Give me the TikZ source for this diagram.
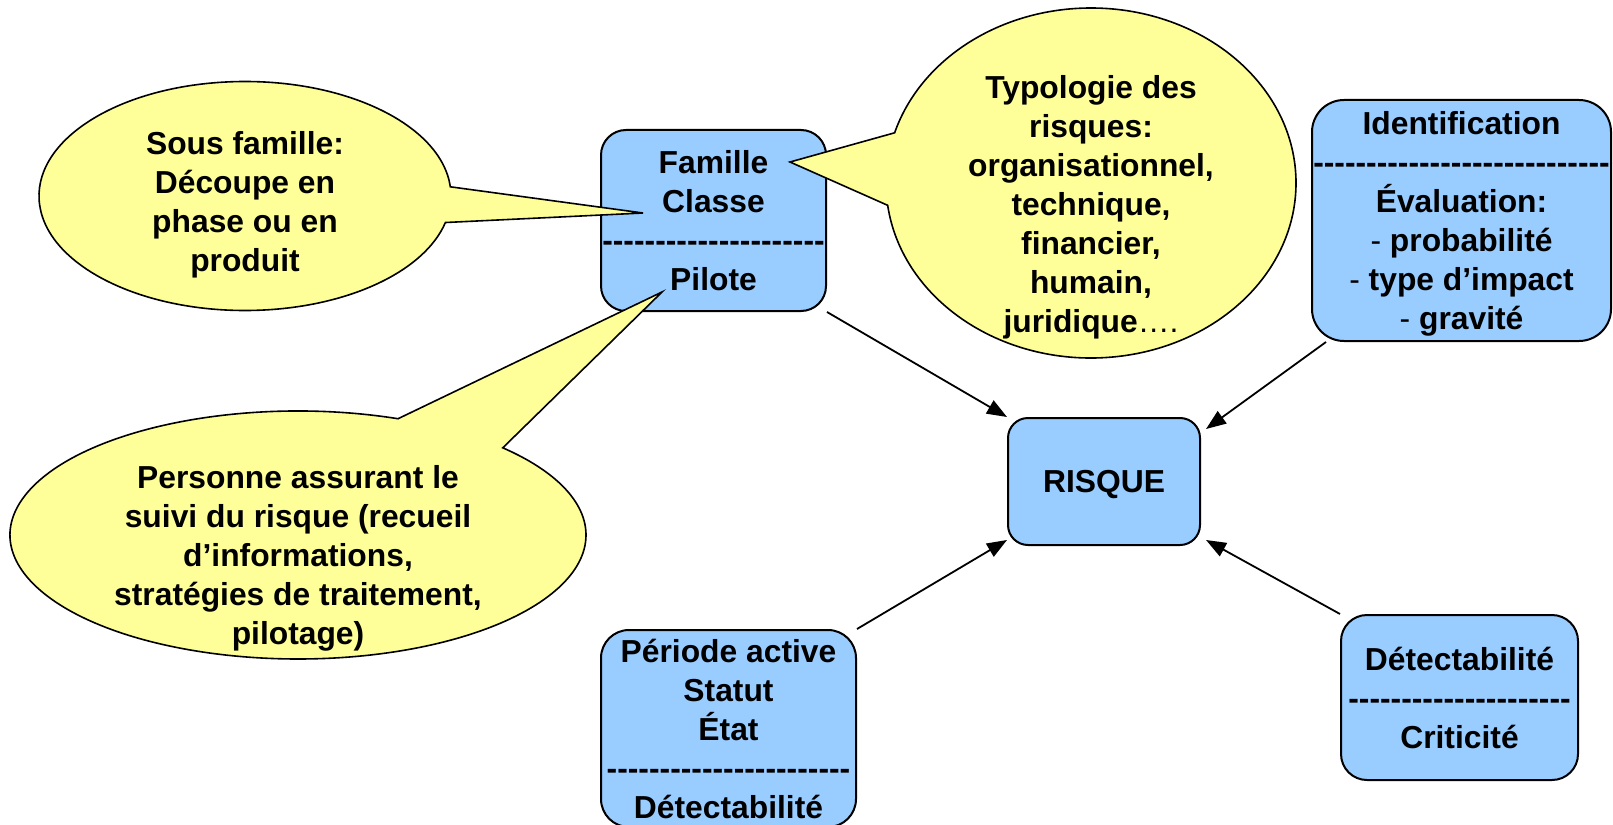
\documentclass[tikz,border=0pt]{standalone}
\usepackage{fontspec}
\setmainfont{Liberation Sans}[Ligatures=TeXOff]
\usetikzlibrary{shapes.callouts,arrows.meta,calc}
\definecolor{boxblue}{HTML}{99CCFF}
\definecolor{noteyellow}{HTML}{FFFF99}
\begin{document}
\begin{tikzpicture}[x=1pt,y=-1pt,
  every node/.style={font=\bfseries\fontsize{31.8}{39}\selectfont},
  box/.style={draw=black, line width=2pt, fill=boxblue, rounded corners=#1, align=center, inner sep=0pt},
  box/.default=25pt,
  note/.style={ellipse callout, draw=black, line width=1.6pt, fill=noteyellow, inner sep=0pt},
  notetext/.style={align=center, inner sep=0pt},
  link/.style={line width=1.8pt, -{Triangle[length=20pt,width=15pt]}}
]
\useasboundingbox (0,0) rectangle (1613,824);

% boxes
\node[box=25pt, minimum width=225pt, minimum height=181pt] (famille) at (713.5,220.5)
  {Famille\\Classe\\---------------------\\Pilote};
\node[box=32pt, minimum width=299pt, minimum height=241pt, text depth=0pt] (ident) at (1461.5,220.5)
  {Identification\\----------------------------\\Évaluation:\\{\mdseries -} probabilité\\{\mdseries -} type d’impact\\{\mdseries -} gravité};
\node[box=20pt, minimum width=192pt, minimum height=127pt, text depth=0pt] (risque) at (1104,481.5) {RISQUE};
\node[box=28pt, minimum width=255pt, minimum height=197pt] (periode) at (728.5,728.5)
  {Période active\\Statut\\État\\-----------------------\\Détectabilité};
\node[box=26pt, minimum width=237pt, minimum height=165pt] (detect) at (1459.5,697.5)
  {Détectabilité\\---------------------\\Criticité};

% connectors
\draw[link] (famille.south east) -- (risque.north west);
\draw[link] ([xshift=15pt]ident.south west) -- ([shift={(5pt,-12pt)}]risque.north east);
\draw[link] (periode.north east) -- ([yshift=6pt]risque.south west);
\draw[link] (detect.north west) -- ([shift={(5pt,6pt)}]risque.south east);

% callouts
\coordinate (pSous) at (643,213);
\coordinate (pTypo) at (790,162);
\coordinate (pPilote) at (662,292);
\node[note, minimum width=412pt, minimum height=229pt, callout absolute pointer=(pSous), callout pointer arc=18] (sous) at (245,196) {};
\node[note, minimum width=410pt, minimum height=350pt, callout absolute pointer=(pTypo), callout pointer arc=24] (typo) at (1091,183) {};
\node[note, minimum width=576pt, minimum height=248pt, callout absolute pointer=(pPilote), callout pointer arc=25] (personne) at (298,535) {};

\node[notetext] (sousT) at (245,205) {Sous famille:\\Découpe en\\phase ou en\\produit};
\node[notetext] (typoT) at (1091,207) {Typologie des\\risques:\\organisationnel,\\technique,\\financier,\\humain,\\juridique{\mdseries ….}};
\node[notetext] (personneT) at (298,558) {Personne assurant le\\suivi du risque (recueil\\d’informations,\\stratégies de traitement,\\pilotage)};
\end{tikzpicture}
\end{document}
